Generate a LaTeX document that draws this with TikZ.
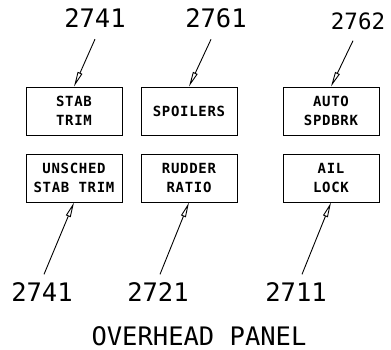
\documentclass[tikz,border=0pt]{standalone}
\usepackage{fontspec}
\setmonofont{DejaVu Sans Mono}
\newfontfamily\panelfont[LetterSpace=5]{DejaVu Sans Mono Bold}
\usetikzlibrary{arrows.meta}

\begin{document}
\begin{tikzpicture}[
    x=1pt, y=-1pt,
    switch/.style={
        rectangle, draw=black, line width=0.9pt,
        minimum width=96pt, minimum height=48pt,
        inner sep=0pt, align=center,
        font=\panelfont\fontsize{14}{19}\selectfont
    },
    callout/.style={inner sep=0pt, font=\ttfamily\fontsize{25.5}{30}\selectfont},
    pointer/.style={-{Triangle[open, length=15pt, width=5pt]}, line width=0.9pt},
]
\useasboundingbox (0,0) rectangle (391,350);

% Schalter
\node[switch] (stabtrim)  at (74,111)  {STAB\\TRIM};
\node[switch] (spoilers)  at (189,111) {SPOILERS};
\node[switch] (autospd)   at (331,111) {AUTO\\SPDBRK};
\node[switch] (unsched)   at (74,178)  {UNSCHED\\STAB TRIM};
\node[switch] (rudder)    at (189,178) {RUDDER\\RATIO};
\node[switch] (aillock)   at (331,178) {AIL\\LOCK};

% Kapitelnummern
\node[callout] (refstab)   at (95,18)  {2741};
\node[callout] (refspoil)  at (216,18) {2761};
\node[callout, font=\ttfamily\fontsize{22.5}{27}\selectfont] (refauto) at (358,21) {2762};
\node[callout] (refunsch)  at (42,292)  {2741};
\node[callout] (refrudder) at (158,292) {2721};
\node[callout] (refail)    at (296,292) {2711};

% Pfeile oben
\draw[pointer] ([yshift=-11.5pt]refstab.south) -- (stabtrim.north);
\draw[pointer] ([xshift=-5pt, yshift=-11.5pt]refspoil.south) -- (spoilers.north);
\draw[pointer] ([xshift=-5pt, yshift=-11pt]refauto.south) -- (autospd.north);

% Pfeile unten
\draw[pointer] ([xshift=2pt, yshift=8pt]refunsch.north) -- (unsched.south);
\draw[pointer] ([xshift=2pt, yshift=8pt]refrudder.north) -- (rudder.south);
\draw[pointer] ([xshift=6pt, yshift=8pt]refail.north) -- (aillock.south);

\node[callout] (title) at (199,336) {OVERHEAD PANEL};

\end{tikzpicture}
\end{document}
